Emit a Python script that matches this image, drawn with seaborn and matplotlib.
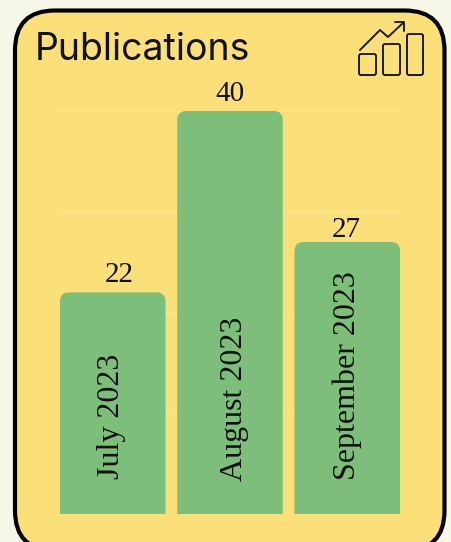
import matplotlib
matplotlib.use('Agg')
import matplotlib.pyplot as plt
import pandas as pd
import seaborn as sns
from matplotlib.patches import FancyBboxPatch
from matplotlib.transforms import IdentityTransform

months = ['July 2023', 'August 2023', 'September 2023']
counts = [22, 40, 27]
y_ticks = [0, 10, 20, 30, 40]
title = 'Publications'

PAGE = '#F6F7E9'
CARD = '#FBE07A'
GREEN = '#7DBE7B'
GRID = '#FCE58C'
W, H = 451, 542

sns.set_theme(style='white')
plt.rcParams['font.family'] = ['Liberation Serif', 'DejaVu Sans']

fig = plt.figure(figsize=(W / 100, H / 100), dpi=100, facecolor=PAGE)

# card + icon in pixel coordinates
bg = fig.add_axes([0, 0, 1, 1])
bg.set_xlim(0, W)
bg.set_ylim(H, 0)
bg.axis('off')
bg.add_patch(FancyBboxPatch((15, 10.5), 429.5, 540, boxstyle='round,pad=0,rounding_size=40',
                            fc=CARD, ec='black', lw=3))
bg.text(35, 50, title, fontsize=27, family='Inter', va='center', ha='left', color='#111111')

ink = '#1c1c1c'
for x0, x1, top in [(359, 376, 54), (383, 400, 44), (407, 423, 34)]:
    bg.add_patch(FancyBboxPatch((x0, top), x1 - x0, 75 - top, boxstyle='round,pad=0,rounding_size=2',
                                fc='none', ec=ink, lw=1.4))
bg.plot([360, 380, 388, 403], [50, 30, 37, 23], color=ink, lw=1.4)
bg.plot([395, 404, 404], [22, 22, 31], color=ink, lw=1.4)

# chart
ax = fig.add_axes([60 / W, 1 - 514 / H, 340 / W, 403 / H])
ax.patch.set_alpha(0)
df = pd.DataFrame({'month': months, 'count': counts})
sns.barplot(data=df, x='month', y='count', color=GREEN, saturation=1, width=0.9, ax=ax, zorder=3, linewidth=0)
ax.set_xlim(-0.45, 2.45)
ax.set_ylim(0, 40)
ax.set_yticks(y_ticks)
ax.grid(axis='y', color=GRID, lw=1)
ax.set_axisbelow(True)
ax.tick_params(left=False, bottom=False, labelleft=False, labelbottom=False)
ax.set_xlabel('')
ax.set_ylabel('')
sns.despine(ax=ax, left=True, bottom=True)

# rounded top corners; text offsets from the bar centre in pixels
label_up = [98, 115, 138]
label_dx = [-1, 5, 0]
value_dx = [6, 0, -1]
value_dy = [4, 4, -1]
fig.canvas.draw()
for i, bar in enumerate(ax.patches):
    box = bar.get_window_extent()
    clip = FancyBboxPatch((box.x0, box.y0 - 30), box.width, box.height + 30,
                          boxstyle='round,pad=0,rounding_size=9', transform=IdentityTransform())
    bar.set_clip_path(clip)
    cx = bar.get_x() + bar.get_width() / 2
    ax.annotate(str(counts[i]), (cx, counts[i]), xytext=(value_dx[i], value_dy[i]), textcoords='offset pixels',
                ha='center', va='bottom', fontsize=21, color='#111111', annotation_clip=False)
    ax.annotate(months[i], (cx, 0), xytext=(label_dx[i], label_up[i]), textcoords='offset pixels',
                ha='center', va='center', rotation=90, fontsize=23, color='#111111', zorder=5)

fig.savefig('out.png', dpi=100, facecolor=PAGE)
